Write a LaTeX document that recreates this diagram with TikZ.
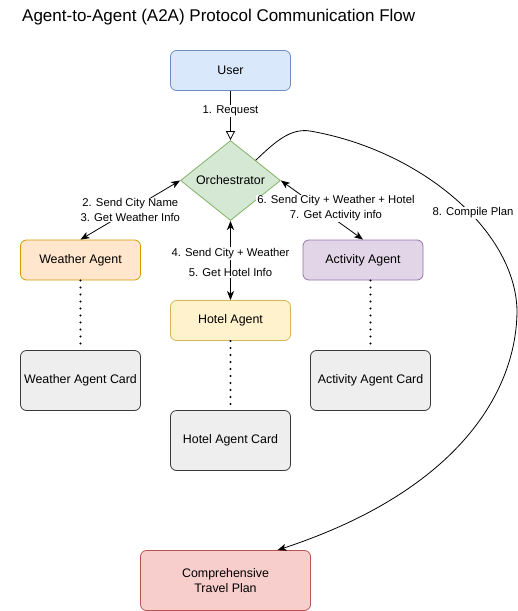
\documentclass[tikz,border=0pt]{standalone}
\usepackage{fontspec}
\setmainfont{Liberation Sans}
\usetikzlibrary{arrows.meta,shapes.geometric}
\definecolor{userfill}{HTML}{DAE8FC}\definecolor{userline}{HTML}{6C8EBF}
\definecolor{orchfill}{HTML}{D5E8D4}\definecolor{orchline}{HTML}{82B366}
\definecolor{wfill}{HTML}{FFE6CC}\definecolor{wline}{HTML}{D79B00}
\definecolor{hfill}{HTML}{FFF2CC}\definecolor{hline}{HTML}{D6B656}
\definecolor{afill}{HTML}{E1D5E7}\definecolor{aline}{HTML}{9673A6}
\definecolor{cardfill}{HTML}{EEEEEE}\definecolor{cardline}{HTML}{36393D}
\definecolor{planfill}{HTML}{F8CECC}\definecolor{planline}{HTML}{B85450}

\begin{document}
\begin{tikzpicture}[x=1pt,y=-1pt,
  box/.style={draw, rounded corners=6pt, minimum width=120pt, minimum height=40pt, line width=0.8pt, font=\fontsize{12.4}{15}\selectfont, align=center},
  card/.style={box, minimum height=60pt, fill=cardfill, draw=cardline},
  lbl/.style={fill=white, inner sep=1pt, font=\fontsize{11.3}{14.5}\selectfont, align=center},
  both/.style={{Stealth[length=9pt,width=7pt,inset=2.5pt]}-{Stealth[length=9pt,width=7pt,inset=2.5pt]}, line width=0.8pt},
  flow/.style={-{Stealth[length=9pt,width=7pt,inset=2.5pt]}, line width=0.8pt},
  dots/.style={line width=2.2pt, line cap=round, dash pattern=on 0pt off 7pt}]
\useasboundingbox (0,0) rectangle (518,611);
\node[anchor=base west, inner sep=0pt, font=\fontsize{17}{20}\selectfont] (title) at (22,21) {Agent-to-Agent (A2A) Protocol Communication Flow};
\node[box, fill=userfill, draw=userline] (user) at (230.5,70.5) {User};
\node[diamond, aspect=1.25, inner sep=0pt, minimum width=100pt, minimum height=80pt, fill=orchfill, draw=orchline, line width=0.8pt, font=\fontsize{12.4}{15}\selectfont] (orch) at (230.5,180.5) {Orchestrator};
\node[box, fill=wfill, draw=wline] (weather) at (80.5,260) {Weather Agent};
\node[box, fill=hfill, draw=hline] (hotel) at (230.5,320.5) {Hotel Agent};
\node[box, fill=afill, draw=aline] (activity) at (363,260) {Activity Agent};
\node[card] (wcard) at (80.5,380.5) {Weather Agent Card};
\node[card] (hcard) at (230.5,440.5) {Hotel Agent Card};
\node[card] (acard) at (370.5,380.5) {Activity Agent Card};
\node[box, minimum width=170pt, minimum height=60pt, fill=planfill, draw=planline] (plan) at (225.5,580.5) {Comprehensive\\Travel Plan};
% request and agent calls
\draw[-{Triangle[open,length=9pt,width=9pt]}, line width=0.8pt] (user) -- node[lbl, pos=0.4] {1. Request} (orch);
\draw[both] (weather.north) -- node[lbl] {2. Send City Name\\3. Get Weather Info} (orch.west);
\draw[both] (orch.south) -- node[lbl, pos=0.41] {4. Send City + Weather} node[lbl, pos=0.655] {5. Get Hotel Info} (hotel.north);
\draw[both] (orch.east) -- node[lbl, xshift=14pt, yshift=2pt] {6. Send City + Weather + Hotel\\7. Get Activity info} (activity.north);
% agent cards
\draw[dots] (weather.south) -- (wcard.north);
\draw[dots] (hotel.south) -- (hcard.north);
\draw[dots] (acard.north |- activity.south) -- (acard.north);
% compile plan
\draw[flow] (orch.north east) .. controls (275,142) and (290,128) .. (310,131)
  .. controls (420,150) and (515,230) .. (517,310)
  .. controls (517,390) and (460,490) .. ([xshift=52pt]plan.north);
\node[lbl] (compile) at (473,213) {8. Compile Plan};
\end{tikzpicture}
\end{document}
